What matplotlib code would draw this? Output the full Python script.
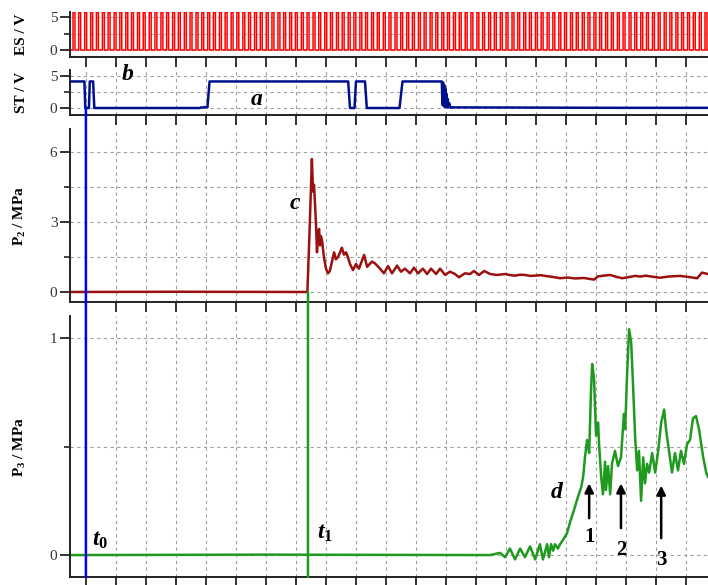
import numpy as np
import matplotlib
matplotlib.use("Agg")
import matplotlib.pyplot as plt
from matplotlib.patches import ConnectionPatch

plt.rcParams['font.family'] = ['Liberation Serif', 'DejaVu Serif']
plt.rcParams['mathtext.fontset'] = 'custom'
plt.rcParams['mathtext.rm'] = 'Liberation Serif:bold'
plt.rcParams['mathtext.it'] = 'Liberation Serif:bold:italic'
plt.rcParams['mathtext.bf'] = 'Liberation Serif:bold'

# time axis in tick units, t0 = 0
x_left, x_right = -0.53, 20.73
t0, t1 = 0.0, 7.4

# ES trigger pulse onsets
es_onsets = [-0.43, -0.24, -0.04, 0.16, 0.35, 0.55, 0.74, 0.94, 1.13, 1.33,
             1.52, 1.72, 1.91, 2.11, 2.30, 2.50, 2.69, 2.89, 3.08, 3.28,
             3.47, 3.67, 3.86, 4.06, 4.25, 4.45, 4.64, 4.84, 5.03, 5.23,
             5.42, 5.62, 5.81, 6.01, 6.20, 6.40, 6.59, 6.79, 6.98, 7.18,
             7.37, 7.57, 7.76, 7.96, 8.15, 8.35, 8.54, 8.74, 8.93, 9.13,
             9.32, 9.52, 9.71, 9.91, 10.10, 10.30, 10.49, 10.69, 10.88, 11.08,
             11.27, 11.47, 11.66, 11.86, 12.05, 12.25, 12.44, 12.64, 12.83, 13.03,
             13.22, 13.42, 13.61, 13.81, 14.00, 14.20, 14.39, 14.59, 14.78, 14.98,
             15.17, 15.37, 15.56, 15.76, 15.95, 16.15, 16.34, 16.54, 16.73, 16.93,
             17.12, 17.32, 17.51, 17.71, 17.90, 18.10, 18.29, 18.49, 18.68, 18.88,
             19.07, 19.27, 19.46, 19.66, 19.85, 20.05, 20.24, 20.44, 20.63]
es_level = 5.7
es_width = 0.065

# ST signal
st_t = [-0.53, -0.05, -0.02, 0.10, 0.13, 0.24, 0.28, 3.80, 3.85, 3.90, 3.95,
        4.05, 4.12, 4.18, 8.74, 8.80, 8.95, 9.00, 9.30, 9.36, 10.45, 10.55,
        11.86, 11.88, 11.90, 11.92, 11.94, 11.96, 11.98, 12.00, 12.02, 12.04,
        12.06, 12.08, 12.11, 12.15, 12.20, 14.0, 16.0, 18.0, 20.73]
st_v = [4.15, 4.15, 0.0, 0.0, 4.15, 4.15, 0.0, 0.0, 0.12, 0.05, 0.15,
        0.1, 4.15, 4.15, 4.15, 0.0, 0.0, 4.15, 4.15, 0.0, 0.0, 4.15,
        4.15, 0.5, 4.0, 0.3, 3.6, 0.2, 3.0, 0.2, 2.2, 0.1, 1.4, 0.1, 0.7,
        0.05, 0.1, 0.08, 0.05, 0.03, 0.03]

# P2 pressure
p2_t = [-0.53, 3.0, 7.38, 7.45, 7.53, 7.57, 7.60, 7.63, 7.67, 7.70, 7.73, 7.77,
        7.80, 7.83, 7.87, 7.93, 8.00, 8.07, 8.13, 8.20, 8.27, 8.33, 8.40, 8.47,
        8.53, 8.60, 8.67, 8.73, 8.80, 8.90, 9.00, 9.10, 9.27, 9.37, 9.53, 9.63,
        9.80, 9.93, 10.07, 10.20, 10.37, 10.50, 10.63, 10.80, 10.93, 11.07,
        11.23, 11.37, 11.50, 11.67, 11.80, 11.97, 12.13, 12.30, 12.43, 12.63,
        12.80, 12.93, 13.10, 13.27, 13.47, 13.70, 13.97, 14.15, 14.30, 14.47,
        14.63, 14.80, 14.97, 15.15, 15.30, 15.47, 15.63, 15.80, 16.05, 16.30,
        16.60, 16.93, 17.07, 17.25, 17.47, 17.67, 17.87, 18.10, 18.30, 18.47,
        18.65, 18.80, 19.13, 19.40, 19.80, 20.10, 20.37, 20.53, 20.73]
p2_v = [0.0, 0.01, 0.0, 2.5, 5.7, 4.3, 4.6, 3.9, 2.8, 1.7, 2.4, 2.7,
        2.0, 2.4, 2.2, 1.5, 1.0, 0.8, 0.9, 1.3, 1.7, 1.4, 1.5, 1.7,
        1.9, 1.6, 1.7, 1.5, 1.2, 0.94, 1.2, 1.0, 1.59, 1.08, 1.3, 1.23,
        1.0, 0.8, 1.11, 0.8, 1.13, 0.87, 1.0, 0.8, 1.04, 0.8,
        1.0, 0.77, 1.0, 0.77, 1.0, 0.73, 0.87, 0.77, 0.63, 0.8,
        0.77, 0.9, 0.73, 0.9, 0.77, 0.73, 0.77, 0.72, 0.7, 0.74,
        0.73, 0.69, 0.7, 0.72, 0.69, 0.66, 0.63, 0.59, 0.62, 0.58,
        0.6, 0.53, 0.67, 0.7, 0.73, 0.65, 0.59, 0.64, 0.69, 0.66,
        0.7, 0.67, 0.61, 0.66, 0.69, 0.64, 0.59, 0.83, 0.77]

# P3 pressure
p3_t = [-0.53, 6.0, 13.47, 13.80, 13.97, 14.13, 14.30, 14.47, 14.63, 14.80,
        14.97, 15.13, 15.23, 15.37, 15.43, 15.50, 15.57, 15.63, 15.73, 15.80,
        15.90, 16.03, 16.13, 16.27, 16.40, 16.50, 16.57, 16.63, 16.70, 16.77,
        16.83, 16.87, 16.93, 17.00, 17.07, 17.10, 17.17, 17.23, 17.30, 17.33,
        17.40, 17.47, 17.53, 17.63, 17.73, 17.83, 17.93, 17.97, 18.03, 18.10,
        18.17, 18.23, 18.30, 18.37, 18.43, 18.50, 18.57, 18.63, 18.70, 18.77,
        18.87, 18.97, 19.07, 19.17, 19.27, 19.33, 19.43, 19.53, 19.63, 19.73,
        19.83, 19.93, 20.03, 20.13, 20.23, 20.33, 20.43, 20.57, 20.67, 20.73]
p3_v = [0.0, 0.002, 0.0, 0.01, -0.01, 0.03, -0.02, 0.03, -0.01, 0.04,
        -0.02, 0.05, -0.02, 0.05, -0.01, 0.05, 0.02, 0.05, 0.03, 0.05,
        0.07, 0.10, 0.15, 0.21, 0.27, 0.31, 0.36, 0.45, 0.53, 0.47,
        0.75, 0.88, 0.82, 0.55, 0.61, 0.51, 0.36, 0.28, 0.43, 0.30,
        0.41, 0.28, 0.42, 0.48, 0.41, 0.45, 0.65, 0.58, 0.82, 1.04,
        0.98, 0.79, 0.55, 0.39, 0.48, 0.25, 0.45, 0.33, 0.42, 0.38,
        0.47, 0.38, 0.48, 0.61, 0.67, 0.58, 0.48, 0.38, 0.47, 0.39,
        0.48, 0.42, 0.51, 0.53, 0.63, 0.64, 0.58, 0.45, 0.38, 0.36]

# build the pulse train outline from the onsets
es_x, es_y = [x_left], [0.0]
for t in es_onsets:
    es_x += [t, t, t + es_width, t + es_width]
    es_y += [0.0, es_level, es_level, 0.0]
es_x.append(x_right)
es_y.append(0.0)

W, H = 708, 585
fig = plt.figure(figsize=(W / 100, H / 100), dpi=100)

def make_ax(top_px, bot_px):
    return fig.add_axes([70 / W, 1 - bot_px / H, 1 - 70 / W, (bot_px - top_px) / H])

ax_es = make_ax(12, 57)
ax_st = make_ax(70, 115)
ax_p2 = make_ax(129, 302)
ax_p3 = make_ax(316, 577)

grid_kw = dict(color='#a0a0a0', linestyle=(0, (3, 3)), linewidth=0.8)

def style(ax, ylim, majors, minors, label):
    ax.set_xlim(x_left, x_right)
    ax.set_ylim(*ylim)
    ax.spines['top'].set_visible(False)
    ax.spines['right'].set_visible(False)
    ax.spines['left'].set_linewidth(1.4)
    ax.spines['bottom'].set_linewidth(1.4)
    ax.spines['left'].set_color('#222222')
    ax.spines['bottom'].set_color('#222222')
    ax.set_xticks(np.arange(0, 21))
    ax.set_xticklabels([])
    ax.set_yticks(majors)
    ax.set_yticks(minors, minor=True)
    ax.tick_params(axis='both', which='major', direction='out', length=7, width=1.3,
                   color='#222222', labelsize=11, labelcolor='#333333', pad=2)
    ax.tick_params(axis='y', which='minor', direction='out', length=4, width=1.2,
                   color='#222222')
    ax.grid(True, which='both', **grid_kw)
    ax.set_axisbelow(True)
    ax.set_ylabel(label, fontsize=11, fontweight='bold')
    ax.yaxis.set_label_coords(-42 / 638, 0.5)

style(ax_es, (-1.06, 5.76), [0, 5], [2.5], 'ES / V')
style(ax_st, (-1.09, 5.94), [0, 5], [2.5], 'ST / V')
style(ax_p2, (-0.43, 6.99), [0, 3, 6], [1.5, 4.5], 'P$_2$ / MPa')
style(ax_p3, (-0.101, 1.101), [0, 1], [0.5], 'P$_3$ / MPa')
ax_es.grid(False, axis='x')
ax_es.grid(True, which='both', axis='y', color='#b8b8b8', linewidth=0.8)

ax_es.plot(es_x, es_y, color='#ff0000', lw=1.1, snap=False)
ax_st.plot(st_t, st_v, color='#00108f', lw=1.8)
ax_p2.plot(p2_t, p2_v, color='#9b1010', lw=1.8)
ax_p3.plot(p3_t, p3_v, color='#1f9a1f', lw=1.8)

# marker lines across panels
for tx, ax_from, y_from, col in [(t0, ax_st, 0.0, '#0000ff'), (t1, ax_p2, 0.0, '#1f9a1f')]:
    con = ConnectionPatch(xyA=(tx, y_from), coordsA=ax_from.transData,
                          xyB=(tx, -0.101), coordsB=ax_p3.transData,
                          color=col, lw=1.8)
    fig.add_artist(con)

lab = dict(fontsize=17, ha='center', va='center', fontweight='bold', style='italic')
ax_st.text(1.4, 5.3, 'b', clip_on=False, **lab)
ax_st.text(5.7, 1.4, 'a', **lab)
ax_p2.text(6.97, 3.8, 'c', **lab)
ax_p3.text(15.7, 0.29, 'd', **lab)
ax_p3.text(0.2, 0.07, '$t_0$', fontsize=17, ha='left', va='center')
ax_p3.text(7.7, 0.10, '$t_1$', fontsize=17, ha='left', va='center')

arrows = [(16.77, 0.17, 0.33, '1', 0.083), (17.83, 0.124, 0.33, '2', 0.023),
          (19.17, 0.078, 0.32, '3', -0.023)]
for ax_x, y0, y1, txt, ty in arrows:
    ax_p3.annotate('', xy=(ax_x, y1), xytext=(ax_x, y0),
                   arrowprops=dict(arrowstyle='-|>', color='black', lw=1.8,
                                   mutation_scale=13, shrinkA=0, shrinkB=0))
    ax_p3.text(ax_x, ty, txt, fontsize=15, fontweight='bold', ha='center', va='center')

fig.savefig('out.png', dpi=100)
